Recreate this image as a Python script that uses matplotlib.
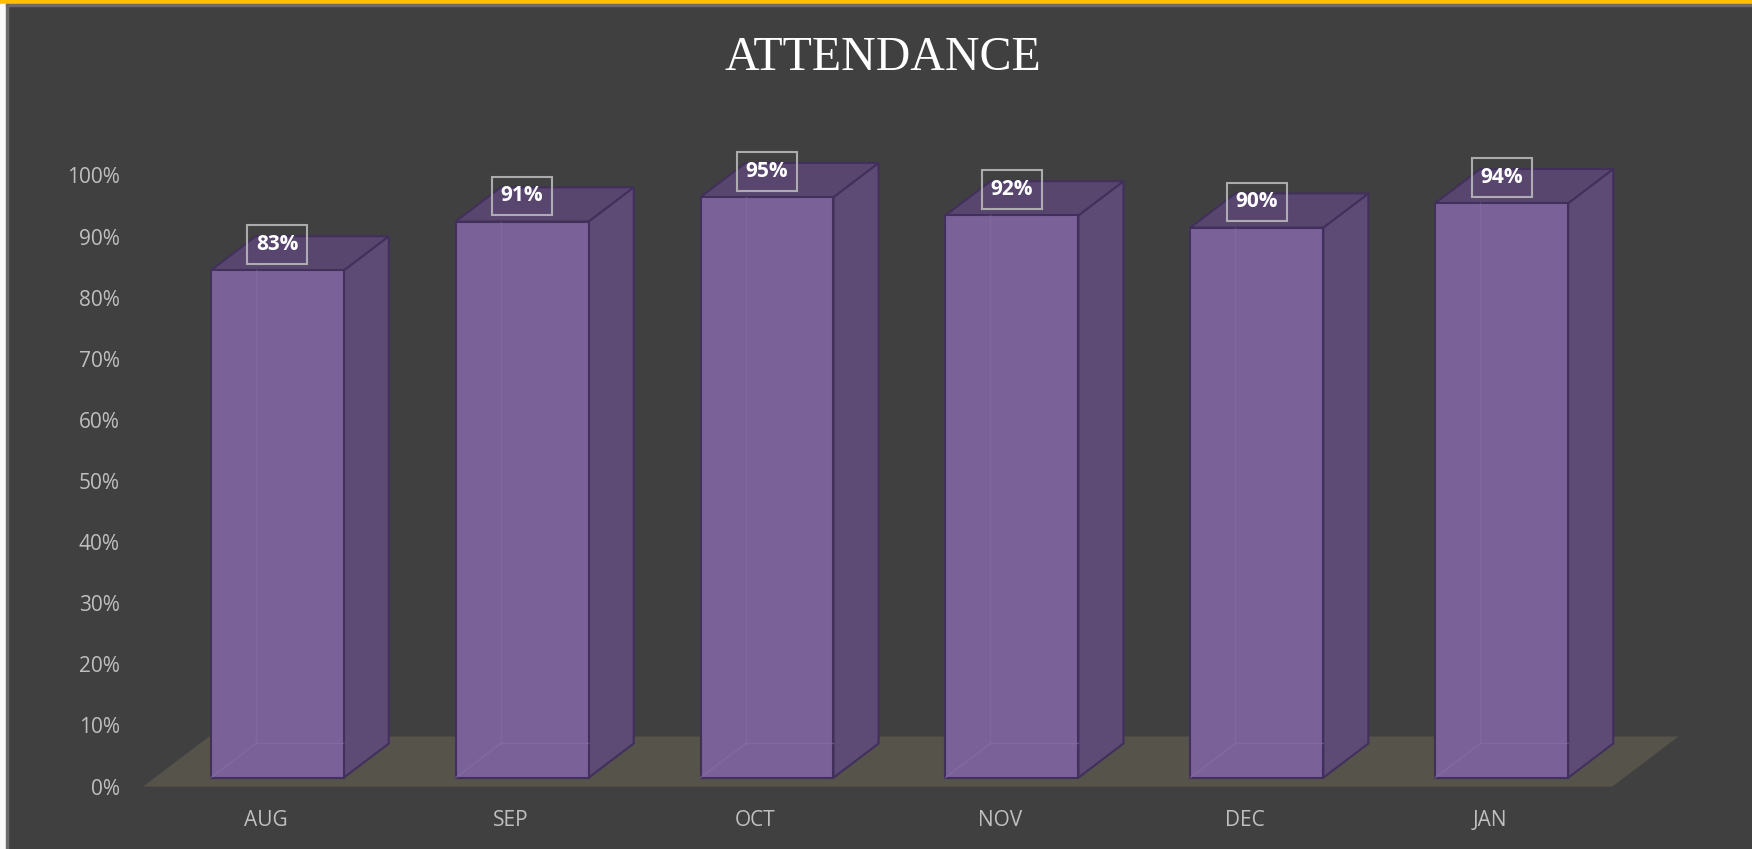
import matplotlib
matplotlib.use("Agg")
import matplotlib.pyplot as plt
from matplotlib.patches import Rectangle

months = ["AUG", "SEP", "OCT", "NOV", "DEC", "JAN"]
attendance = [83, 91, 95, 92, 90, 94]
yticks = [0, 10, 20, 30, 40, 50, 60, 70, 80, 90, 100]
ytick_labels = [f"{t}%" for t in yticks]

W_PX, H_PX, DPI = 1752, 849, 100
BG = "#404040"
FRONT = "#7A6299"
SIDE = "#5D4B76"
TOP = "#58466F"
EDGE = "#42305C"
FLOOR = "#55534A"

# pseudo-3d geometry (data units: x = category, y = percent)
DX, DY = 0.27, 8.2      # floor depth offset
D0, D1 = 0.178, 0.86    # front / back of bars as fraction of depth
BW = 0.543              # bar width

fig = plt.figure(figsize=(W_PX / DPI, H_PX / DPI), dpi=DPI, facecolor=BG)

# pixel mapping of the plot area
U = (1443 - 128) * 1752 / 1568 / 6      # px per category
X0 = 128 * 1752 / 1568                   # px of x=-0.5
V = (704 - 157) * 1752 / 1568 / 100      # px per percent
Y0 = 704 * 1752 / 1568                   # px of y=0
L, R, T, B = 140, 1720, 110, 800
ax = fig.add_axes([L / W_PX, 1 - B / H_PX, (R - L) / W_PX, (B - T) / H_PX])
ax.set_xlim(-0.5 - (X0 - L) / U, -0.5 + (R - X0) / U)
ax.set_ylim(-(B - Y0) / V, (Y0 - T) / V)
ax.set_facecolor("none")
for s in ax.spines.values():
    s.set_visible(False)

# floor
ax.fill([-0.5, 5.5, 5.5 + DX, -0.5 + DX], [0, 0, DY, DY], color=FLOOR, zorder=1, lw=0)

xs = list(range(len(months)))
fx = [x + D0 * DX for x in xs]
base = D0 * DY
ddx, ddy = (D1 - D0) * DX, (D1 - D0) * DY

for x, v in zip(fx, attendance):
    l, r = x - BW / 2, x + BW / 2
    top = base + v
    # side face
    ax.fill([r, r + ddx, r + ddx, r], [base, base + ddy, top + ddy, top],
            facecolor=SIDE, edgecolor=EDGE, lw=1.5, zorder=2)
    # top face
    ax.fill([l, r, r + ddx, l + ddx], [top, top, top + ddy, top + ddy],
            facecolor=TOP, edgecolor=EDGE, lw=1.5, zorder=2)

ax.bar(fx, attendance, width=BW, bottom=base, color=FRONT, edgecolor=EDGE,
       linewidth=1.5, zorder=3)

for x, v in zip(fx, attendance):
    l, r = x - BW / 2, x + BW / 2
    top = base + v
    # hidden back edges seen through the front face
    ax.plot([l, l + ddx, r], [base, base + ddy, base + ddy], color="#8A72AA", lw=1, alpha=0.5, zorder=3.5)
    ax.plot([l + ddx, l + ddx], [base + ddy, top], color="#8A72AA", lw=1, alpha=0.4, zorder=3.5)
    ax.text(x, top + 4.2, f"{v}%", ha="center", va="center", color="white",
            fontsize=15, fontweight="bold", family="Open Sans", zorder=6,
            bbox=dict(boxstyle="square,pad=0.42", fc="none", ec="#B8B8B8", lw=1.5, alpha=0.9))

ax.set_yticks(yticks)
ax.set_yticklabels(ytick_labels)
ax.set_xticks(xs)
ax.set_xticklabels(months)
ax.tick_params(axis="y", length=0, pad=14.5, labelcolor="#BFBFBF", labelsize=15)
ax.tick_params(axis="x", length=0, pad=7, labelcolor="#BFBFBF", labelsize=15)
for lab in ax.get_xticklabels() + ax.get_yticklabels():
    lab.set_family("Open Sans")

fig.text(883 / W_PX, 1 - 58 / H_PX, "ATTENDANCE", ha="center", va="center",
         color="white", fontsize=34.5, family="Liberation Serif")

# frame decorations
fig.patches.append(Rectangle((0, 1 - 4 / H_PX), 1, 4 / H_PX, transform=fig.transFigure, color="#FFC000", zorder=10))
fig.patches.append(Rectangle((0, 0), 6 / W_PX, 1 - 4 / H_PX, transform=fig.transFigure, color="#FAFAFA", zorder=10))
fig.patches.append(Rectangle((6 / W_PX, 1 - 6 / H_PX), 1, 2 / H_PX, transform=fig.transFigure, color="#6A6A6A", zorder=10))
fig.patches.append(Rectangle((6 / W_PX, 0), 1.5 / W_PX, 1 - 4 / H_PX, transform=fig.transFigure, color="#6A6A6A", zorder=10))

fig.savefig("out.png", dpi=DPI, facecolor=BG)
